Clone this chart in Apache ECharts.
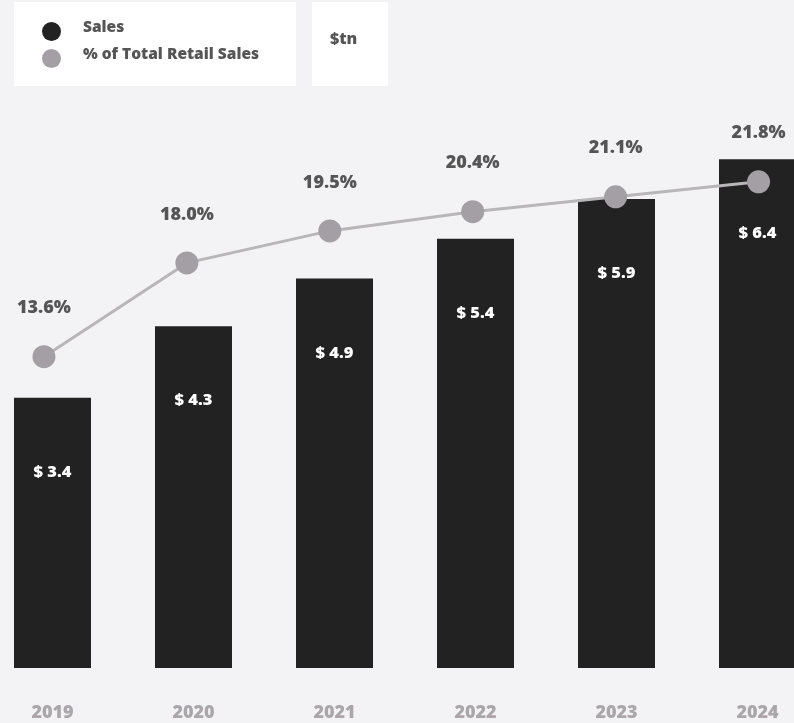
<!DOCTYPE html>
<html><head><meta charset="utf-8">
<script src="https://cdn.jsdelivr.net/npm/echarts@6/dist/echarts.min.js"></script>
<style>html,body{margin:0;padding:0;background:#f3f3f5}#c{width:794px;height:723px}</style>
</head><body><div id="c"></div>
<script>
const years = ['2019','2020','2021','2022','2023','2024'];
const sales = [3.4, 4.3, 4.9, 5.4, 5.9, 6.4];
const pctRetail = [13.6, 18.0, 19.5, 20.4, 21.1, 21.8];
const FONT = 'Open Sans';
const chart = echarts.init(document.getElementById('c'));
chart.setOption({
  backgroundColor: '#f3f3f5',
  animation: false,
  textStyle: {fontFamily: FONT},
  graphic: [
    {type:'rect', left:14, top:2, shape:{width:282, height:84}, style:{fill:'#ffffff'}, z:-1},
    {type:'rect', left:312, top:2, shape:{width:76, height:84}, style:{fill:'#ffffff'}, z:-1},
    {type:'text', left:330, top:31, style:{text:'$tn', fill:'#555555', font:'800 16px "'+FONT+'"'}}
  ],
  legend: {
    left: 37, top: 15, orient: 'vertical', itemWidth: 19, itemHeight: 19, itemGap: 6,
    icon: 'circle',
    data: [{name:'Sales'},{name:'% of Total Retail Sales'}],
    formatter: '{t|{name}}',
    textStyle: {color:'#555555', fontWeight:800, fontSize:15.5, fontFamily:FONT,
      rich:{t:{color:'#555555', fontWeight:800, fontSize:15.5, fontFamily:FONT, padding:[0,0,7,17]}}}
  },
  grid: [
    {left:-18, right:-34, top:111.5, bottom:55, outerBoundsMode:'none', containLabel:false},
    {left:-27.5, right:-36, top:111.5, bottom:55, outerBoundsMode:'none', containLabel:false}
  ],
  xAxis: [
    {type:'category', data:years, gridIndex:0, axisLine:{show:false}, axisTick:{show:false},
     axisLabel:{color:'#aaa6ab', fontWeight:800, fontSize:18, margin:36, fontFamily:FONT}},
    {type:'category', data:years, gridIndex:1, show:false}
  ],
  yAxis: [
    {type:'value', gridIndex:0, min:0, max:7, show:false, splitLine:{show:false}},
    {type:'value', gridIndex:1, min:-1, max:25.1, show:false, splitLine:{show:false}}
  ],
  series: [
    {name:'Sales', type:'bar', data:sales, xAxisIndex:0, yAxisIndex:0, barWidth:77,
     itemStyle:{color:'#222222'},
     label:{show:true, position:'insideTop', distance:66, color:'#ffffff', fontWeight:800, fontSize:16.5, fontFamily:FONT,
       formatter: p => '$ ' + p.value.toFixed(1)}},
    {name:'% of Total Retail Sales', type:'line', data:pctRetail, xAxisIndex:1, yAxisIndex:1,
     symbol:'circle', symbolSize:23, z:5,
     lineStyle:{color:'#b8b6b8', width:3},
     itemStyle:{color:'#a49fa5'},
     label:{show:true, position:'top', distance:28, color:'#555555', fontWeight:800, fontSize:18, fontFamily:FONT,
       formatter: p => p.value.toFixed(1) + '%'}}
  ]
});
</script></body></html>
